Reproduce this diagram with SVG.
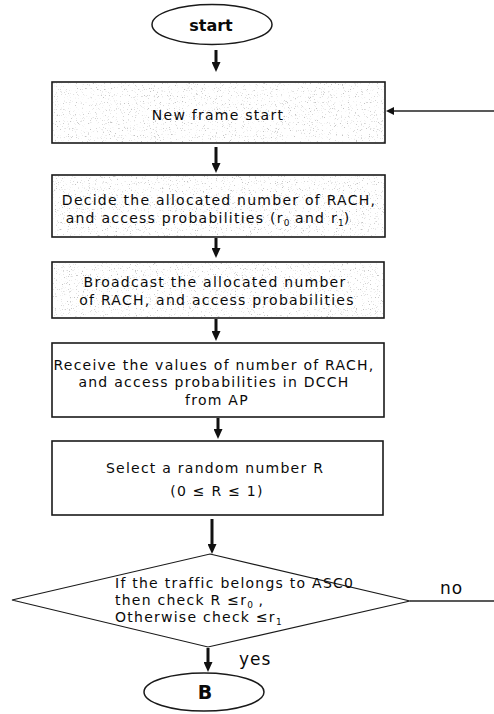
<svg xmlns="http://www.w3.org/2000/svg" width="494" height="714" viewBox="0 0 494 714">
  <style>
    .bg { fill: #ffffff; }
    .box { fill: #ffffff; stroke: #1a1a1a; stroke-width: 1.6; }
    .grain { fill: #ffffff; filter: url(#speckle); }
    .term { fill: #ffffff; stroke: #1a1a1a; stroke-width: 1.5; }
    .dec { fill: #ffffff; stroke: #1a1a1a; stroke-width: 1.2; }
    .lbl { font-family: "DejaVu Sans", "Liberation Sans", sans-serif; font-size: 14px; letter-spacing: 1.25px; fill: #0a0a0a; }
    .mid { text-anchor: middle; }
    .bold { font-family: "DejaVu Sans", "Liberation Sans", sans-serif; font-weight: bold; fill: #0a0a0a; text-anchor: middle; }
    .yn { font-family: "DejaVu Sans", "Liberation Sans", sans-serif; font-size: 17px; letter-spacing: 1px; fill: #0a0a0a; }
    .sub { font-size: 9px; letter-spacing: 0; }
    .flow { stroke: #111111; stroke-width: 3; fill: none; marker-end: url(#head); }
    .thin { stroke: #222222; stroke-width: 1.5; fill: none; }
  </style>
  <defs>
    <marker id="head" viewBox="0 0 10 9" markerUnits="userSpaceOnUse" markerWidth="10" markerHeight="9" refX="4" refY="4.5" orient="auto">
      <path d="M0,0 L10,4.5 L0,9 z" fill="#111111"/>
    </marker>
    <marker id="headSmall" viewBox="0 0 8 8" markerUnits="userSpaceOnUse" markerWidth="8" markerHeight="8" refX="3" refY="4" orient="auto">
      <path d="M0,0 L8,4 L0,8 z" fill="#111111"/>
    </marker>
    <!-- halftone speckle used inside the shaded process boxes -->
    <filter id="speckle" x="0" y="0" width="100%" height="100%" filterUnits="objectBoundingBox">
      <feTurbulence type="fractalNoise" baseFrequency="0.85" numOctaves="2" seed="7" result="noise"/>
      <feColorMatrix in="noise" type="matrix" values="0 0 0 0 0.55  0 0 0 0 0.55  0 0 0 0 0.55  6 0 0 0 -3.75" result="dots"/>
      <feComposite in="dots" in2="SourceAlpha" operator="in"/>
    </filter>
  </defs>

  <rect class="bg" x="0" y="0" width="494" height="714"/>

  <g id="connectors">
    <line class="flow" x1="216" y1="50" x2="216" y2="66"/>
    <line class="flow" x1="216" y1="147" x2="216" y2="167"/>
    <line class="flow" x1="216" y1="238" x2="216" y2="252"/>
    <line class="flow" x1="216" y1="319" x2="216" y2="335"/>
    <line class="flow" x1="218" y1="418" x2="218" y2="433"/>
    <line class="flow" x1="212" y1="519" x2="212" y2="548"/>
    <line class="flow" x1="208" y1="648" x2="208" y2="666"/>
    <!-- loop back into the frame start -->
    <line class="thin" x1="494" y1="111" x2="391" y2="111" marker-end="url(#headSmall)"/>
    <!-- "no" branch leaving the decision -->
    <line class="thin" x1="410" y1="601" x2="494" y2="601"/>
    <text class="yn" x="440" y="594">no</text>
    <text class="yn" x="239" y="665">yes</text>
  </g>

  <g id="start">
    <ellipse class="term" cx="212" cy="24.5" rx="60" ry="20"/>
    <text class="bold" x="211" y="31" font-size="16">start</text>
  </g>

  <g id="new-frame">
    <rect class="box" x="52" y="82" width="333" height="61"/>
    <rect class="grain" x="53" y="83" width="331" height="59"/>
    <text class="lbl mid" x="218" y="120">New frame start</text>
  </g>

  <g id="decide">
    <rect class="box" x="52" y="175" width="333" height="62"/>
    <rect class="grain" x="53" y="176" width="331" height="60"/>
    <text class="lbl mid" x="219" y="205">Decide the allocated number of RACH,</text>
    <text class="lbl mid" x="208" y="223">and access probabilities (r<tspan class="sub" dy="3">0</tspan><tspan dy="-3"> and r</tspan><tspan class="sub" dy="3">1</tspan><tspan dy="-3">)</tspan></text>
  </g>

  <g id="broadcast">
    <rect class="box" x="52" y="262" width="332" height="56"/>
    <rect class="grain" x="53" y="263" width="330" height="54"/>
    <text class="lbl mid" x="215" y="287">Broadcast the allocated number</text>
    <text class="lbl mid" x="217" y="305">of RACH, and access probabilities</text>
  </g>

  <g id="receive">
    <rect class="box" x="52" y="343" width="332" height="74"/>
    <text class="lbl mid" x="214" y="370" letter-spacing="1.1">Receive the values of number of RACH,</text>
    <text class="lbl mid" x="214" y="387">and access probabilities in DCCH</text>
    <text class="lbl mid" x="217" y="405">from AP</text>
  </g>

  <g id="select">
    <rect class="box" x="52" y="441" width="331" height="74"/>
    <text class="lbl mid" x="215" y="473">Select a random number R</text>
    <text class="lbl mid" x="217" y="496">(0 ≤ R ≤  1)</text>
  </g>

  <g id="check">
    <polygon class="dec" points="210,554 410,601 208,647 12,600"/>
    <text class="lbl" x="115" y="588" letter-spacing="1.1">If the traffic belongs to ASC0</text>
    <text class="lbl" x="115" y="605" letter-spacing="1.1">then check R ≤r<tspan class="sub" dy="3">0</tspan><tspan dy="-3"> ,</tspan></text>
    <text class="lbl" x="115" y="622" letter-spacing="1.1">Otherwise check ≤r<tspan class="sub" dy="3">1</tspan></text>
  </g>

  <g id="B">
    <ellipse class="term" cx="204" cy="692" rx="60" ry="19"/>
    <text class="bold" x="205" y="699" font-size="19">B</text>
  </g>
</svg>
